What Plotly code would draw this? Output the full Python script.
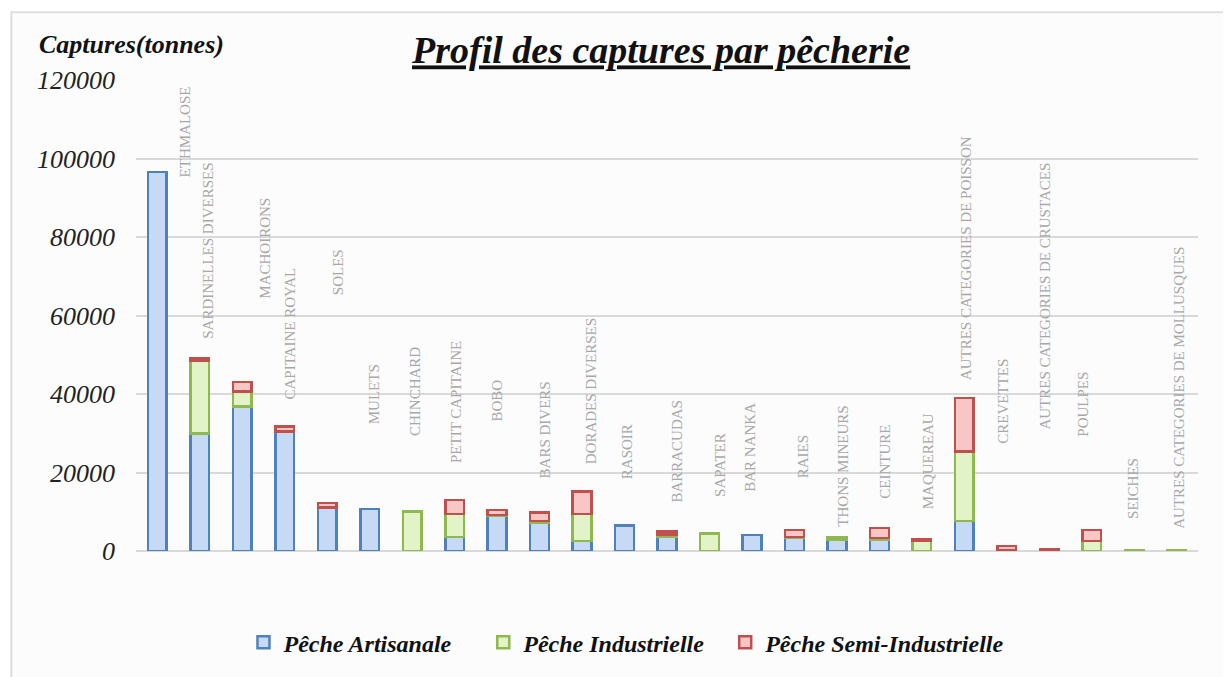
import plotly.graph_objects as go

categories = [
    "ETHMALOSE", "SARDINELLES DIVERSES", "MACHOIRONS", "CAPITAINE ROYAL", "SOLES",
    "MULETS", "CHINCHARD", "PETIT CAPITAINE", "BOBO", "BARS DIVERS",
    "DORADES DIVERSES", "RASOIR", "BARRACUDAS", "SAPATER", "BAR NANKA",
    "RAIES", "THONS MINEURS", "CEINTURE", "MAQUEREAU", "AUTRES CATEGORIES DE POISSON",
    "CREVETTES", "AUTRES CATEGORIES DE CRUSTACES", "POULPES", "SEICHES",
    "AUTRES CATEGORIES DE MOLLUSQUES",
]
artisanale = [96500, 30000, 36800, 30400, 10900, 10700, None, 3600, 8900, 7300,
              2600, 6500, 3700, None, 4100, 3400, 2900, 2900, None, 7700,
              None, None, None, None, None]
industrielle = [None, 18500, 3800, None, 200, None, 10100, 5800, 300, 300,
                6800, None, 500, 4400, None, 200, 600, 400, 2500, 17600,
                200, None, 2500, 300, 300]
semi_industrielle = [None, 700, 2500, 1300, 1100, None, None, 3600, 1300, 2200,
                     5700, None, 800, None, None, 1800, None, 2500, 500, 13700,
                     1100, 500, 2900, None, None]
y_ticks = [0, 20000, 40000, 60000, 80000, 100000, 120000]

# placement of the vertical category labels (bottom of label in axis units, horizontal shift in px)
label_bottom = [94600, 53500, 63700, 38000, 64700, 31700, 28700, 21800, 32500, 18000,
                21600, 17800, 11700, 13400, 14700, 18000, 5800, 12900, 10100, 43100,
                26900, 30400, 28700, 7600, 5100]
label_shift = [28, 8, 23, 5, 11, 4, 3, 2, 0, 5, 9, 2, 10, 11, -2, 8, 6, 6, 6, 1,
               -4, -4, -9, -2, 2]

SERIF = "Liberation Serif"

fig = go.Figure()
series = [
    ("Pêche Artisanale", artisanale, "#c6daf6", "#4f81bd", "legend"),
    ("Pêche Industrielle", industrielle, "#e3f3c8", "#8fb84e", "legend2"),
    ("Pêche Semi-Industrielle", semi_industrielle, "#f7c6c5", "#c0504d", "legend3"),
]
for name, vals, fill, edge, leg in series:
    fig.add_trace(go.Bar(
        x=categories, y=vals, name=name, legend=leg,
        marker=dict(color=fill, line=dict(color=edge, width=2.5)),
        width=0.44,
    ))

# frame of the chart area
fig.add_shape(type="rect", xref="paper", yref="paper",
              x0=-0.1174, x1=1.2, y0=-0.4, y1=1.1438,
              fillcolor="#fcfcfc", line=dict(color="#dedede", width=2), layer="below")

for i, cat in enumerate(categories):
    fig.add_annotation(
        x=cat, y=label_bottom[i], xref="x", yref="y",
        text=cat, textangle=-90, showarrow=False,
        xanchor="center", yanchor="bottom", xshift=label_shift[i],
        font=dict(family=SERIF, size=15, color="#a8a8a8"),
    )

fig.add_annotation(
    x=-0.093, y=1.076, xref="paper", yref="paper",
    text="<b><i>Captures(tonnes)</i></b>", showarrow=False,
    xanchor="left", yanchor="middle",
    font=dict(family=SERIF, size=26, color="#111111"),
)

legend_font = dict(family=SERIF, size=24, weight="bold", style="italic", color="#111111")
legend_common = dict(orientation="h", xanchor="left", y=-0.1945, yanchor="middle",
                     font=legend_font, bgcolor="rgba(0,0,0,0)")

fig.update_layout(
    width=1223, height=669,
    margin=dict(l=128, r=33, t=72, b=124),
    paper_bgcolor="white", plot_bgcolor="rgba(0,0,0,0)",
    barmode="stack",
    title=dict(
        text="<b><i><u>Profil des captures par pêcherie</u></i></b>",
        x=0.534, xref="container", xanchor="center",
        y=0.937, yref="container", yanchor="middle",
        font=dict(family=SERIF, size=38, color="#111111"),
    ),
    xaxis=dict(showticklabels=False, showgrid=False, zeroline=False,
               showline=False, ticks="", range=[-0.5, 24.5]),
    yaxis=dict(range=[0, 120000], tickvals=y_ticks, tickformat="d", showgrid=True,
               gridcolor="#d9d9d9", gridwidth=1.5, zeroline=True,
               zerolinecolor="#d9d9d9", zerolinewidth=1.5, ticks="",
               ticklabelstandoff=20,
               tickfont=dict(family=SERIF, size=26, style="italic", color="#222222")),
    legend=dict(x=0.1012, **legend_common),
    legend2=dict(x=0.327, **legend_common),
    legend3=dict(x=0.5548, **legend_common),
    showlegend=True,
)

fig.write_html("out.html")
